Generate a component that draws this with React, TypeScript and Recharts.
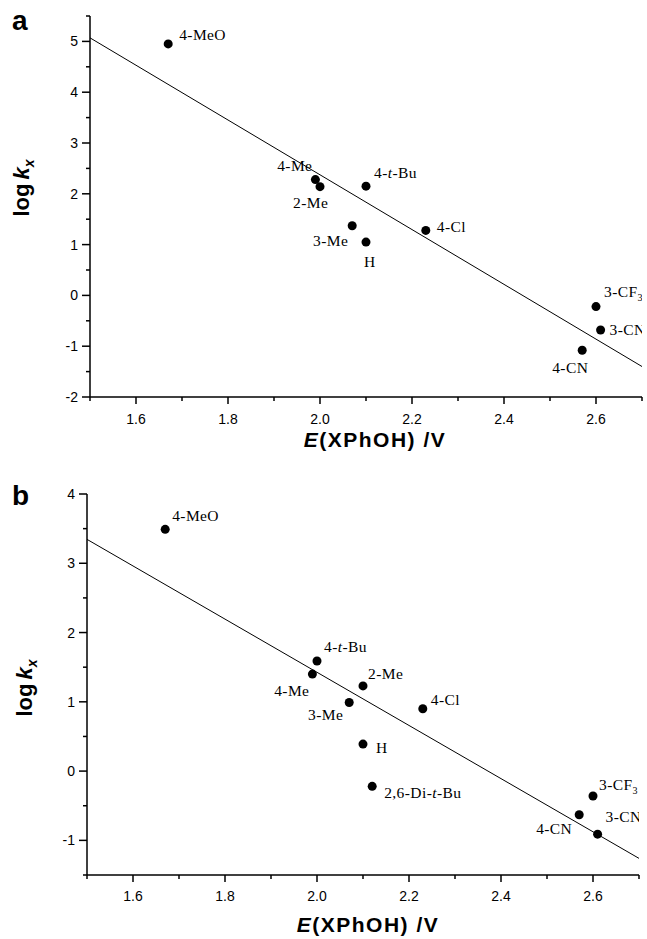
import React from "react";
import {
  ScatterChart,
  Scatter,
  XAxis,
  YAxis,
  ReferenceLine,
  Customized,
} from "recharts";

// panel a
const subsA = ["4-MeO", "4-Me", "2-Me", "4-t-Bu", "3-Me", "H", "4-Cl", "3-CF3", "3-CN", "4-CN"];
const potA = [1.67, 1.99, 2.0, 2.1, 2.07, 2.1, 2.23, 2.6, 2.61, 2.57];
const logkA = [4.95, 2.28, 2.14, 2.15, 1.37, 1.05, 1.28, -0.22, -0.68, -1.08];
const fitA = [5.07, -1.4];

// panel b
const subsB = ["4-MeO", "4-t-Bu", "4-Me", "2-Me", "3-Me", "4-Cl", "H", "2,6-Di-t-Bu", "3-CF3", "4-CN", "3-CN"];
const potB = [1.67, 2.0, 1.99, 2.1, 2.07, 2.23, 2.1, 2.12, 2.6, 2.57, 2.61];
const logkB = [3.49, 1.59, 1.4, 1.23, 0.99, 0.9, 0.39, -0.22, -0.36, -0.63, -0.91];
const fitB = [3.345, -1.26];

const fitX = [1.5, 2.7];
const xTicks = [1.5, 1.6, 1.7, 1.8, 1.9, 2.0, 2.1, 2.2, 2.3, 2.4, 2.5, 2.6, 2.7];
const yTicksA = [-2, -1.5, -1, -0.5, 0, 0.5, 1, 1.5, 2, 2.5, 3, 3.5, 4, 4.5, 5, 5.5];
const yTicksB = [-1.5, -1, -0.5, 0, 0.5, 1, 1.5, 2, 2.5, 3, 3.5, 4];

const SANS = "'Liberation Sans', Arial, sans-serif";
const SERIF = "'Liberation Serif', 'Times New Roman', serif";

// where each substituent label sits relative to its dot
const placeA: Record<string, { dx: number; dy: number; end?: boolean }> = {
  "4-MeO": { dx: 11, dy: -9 },
  "4-Me": { dx: -3, dy: -14, end: true },
  "2-Me": { dx: -27, dy: 16 },
  "4-t-Bu": { dx: 8, dy: -13 },
  "3-Me": { dx: -4, dy: 15, end: true },
  H: { dx: -2, dy: 20 },
  "4-Cl": { dx: 11, dy: -3 },
  "3-CF3": { dx: 8, dy: -15 },
  "3-CN": { dx: 9, dy: 0 },
  "4-CN": { dx: -30, dy: 18 },
};
const placeB: Record<string, { dx: number; dy: number; end?: boolean }> = {
  "4-MeO": { dx: 7, dy: -13 },
  "4-t-Bu": { dx: 7, dy: -14 },
  "4-Me": { dx: -3, dy: 17, end: true },
  "2-Me": { dx: 5, dy: -12 },
  "3-Me": { dx: -6, dy: 12, end: true },
  "4-Cl": { dx: 8, dy: -9 },
  H: { dx: 13, dy: 4 },
  "2,6-Di-t-Bu": { dx: 12, dy: 7 },
  "3-CF3": { dx: 6, dy: -11 },
  "4-CN": { dx: -7, dy: 14, end: true },
  "3-CN": { dx: 8, dy: -17 },
};

const pointsA = subsA.map((name, i) => ({ name, x: potA[i], y: logkA[i] }));
const pointsB = subsB.map((name, i) => ({ name, x: potB[i], y: logkB[i] }));

function renderName(name: string) {
  if (name.includes("-t-")) {
    const [a, b] = name.split("-t-");
    return [
      <tspan key="a">{a}-</tspan>,
      <tspan key="t" fontStyle="italic">t</tspan>,
      <tspan key="b">-{b}</tspan>,
    ];
  }
  if (name.endsWith("CF3")) {
    return [
      <tspan key="a">{name.slice(0, -1)}</tspan>,
      <tspan key="s" fontSize={10} dy={4}>3</tspan>,
    ];
  }
  return name;
}

function Point(props: any) {
  const { cx, cy, payload, place } = props;
  const p = place[payload.name] || { dx: 8, dy: -8 };
  return (
    <g>
      <circle cx={cx} cy={cy} r={4.5} fill="#000" />
      <text
        x={cx + p.dx}
        y={cy + p.dy + 5}
        textAnchor={p.end ? "end" : "start"}
        fontFamily={SERIF}
        fontSize={15.5}
        letterSpacing={0.4}
        fill="#000"
      >
        {renderName(payload.name)}
      </text>
    </g>
  );
}

function XTick(props: any) {
  const { x, y, payload, gap } = props;
  const v = payload.value;
  const major = Math.round(v * 10) % 2 === 0;
  return (
    <g>
      <line x1={x} x2={x} y1={y} y2={y + (major ? 7 : 4)} stroke="#000" strokeWidth={1.5} />
      {major && (
        <text x={x} y={y + gap} textAnchor="middle" fontFamily={SANS} fontSize={14} fill="#000">
          {v.toFixed(1)}
        </text>
      )}
    </g>
  );
}

function YTick(props: any) {
  const { x, y, payload } = props;
  const v = payload.value;
  const major = Number.isInteger(v);
  return (
    <g>
      <line x1={x} x2={x - (major ? 8 : 4)} y1={y} y2={y} stroke="#000" strokeWidth={1.5} />
      {major && (
        <text x={x - 12} y={y + 5} textAnchor="end" fontFamily={SANS} fontSize={14} fill="#000">
          {v}
        </text>
      )}
    </g>
  );
}

function Titles({ letter, letterY, yTitleX, yTitleY, xTitleX, xTitleY }: any) {
  return (
    <g fill="#000">
      <text x={12} y={letterY} fontFamily={SANS} fontWeight="bold" fontSize={28}>
        {letter}
      </text>
      <text
        x={yTitleX}
        y={yTitleY}
        transform={`rotate(-90, ${yTitleX}, ${yTitleY})`}
        textAnchor="middle"
        fontFamily={SANS}
        fontWeight="bold"
        fontSize={22}
      >
        log
        <tspan fontStyle="italic" dx={4}>k</tspan>
        <tspan fontStyle="italic" fontSize={14} dy={5}>x</tspan>
      </text>
      <text
        x={xTitleX}
        y={xTitleY}
        textAnchor="middle"
        fontFamily={SANS}
        fontWeight="bold"
        fontSize={21}
        letterSpacing={1.5}
      >
        <tspan fontStyle="italic">E</tspan>(XPhOH) /V
      </text>
    </g>
  );
}

const axisLine = { stroke: "#000", strokeWidth: 1.5 };

export default function App() {
  return (
    <div style={{ position: "absolute", left: 0, top: 0, width: 647, height: 939, background: "#fff" }}>
      <ScatterChart width={647} height={470} margin={{ top: 16, right: 5, bottom: 0, left: 0 }}>
        <XAxis
          type="number"
          dataKey="x"
          domain={[1.5, 2.7]}
          ticks={xTicks}
          interval={0}
          height={73}
          tickSize={0}
          tickMargin={0}
          tickLine={false}
          axisLine={axisLine}
          tick={<XTick gap={27} />}
          allowDataOverflow
        />
        <YAxis
          type="number"
          dataKey="y"
          domain={[-2, 5.5]}
          ticks={yTicksA}
          interval={0}
          width={90}
          tickSize={0}
          tickMargin={0}
          tickLine={false}
          axisLine={axisLine}
          tick={<YTick />}
          allowDataOverflow
        />
        <ReferenceLine
          segment={[
            { x: fitX[0], y: fitA[0] },
            { x: fitX[1], y: fitA[1] },
          ]}
          stroke="#000"
          strokeWidth={1}
          ifOverflow="visible"
        />
        <Scatter
          data={pointsA}
          fill="#000"
          isAnimationActive={false}
          shape={(p: any) => <Point {...p} place={placeA} />}
        />
        <Customized
          component={
            <Titles letter="a" letterY={30} yTitleX={29} yTitleY={188} xTitleX={375} xTitleY={447} />
          }
        />
      </ScatterChart>
      <ScatterChart width={647} height={469} margin={{ top: 24, right: 8, bottom: 0, left: 0 }}>
        <XAxis
          type="number"
          dataKey="x"
          domain={[1.5, 2.7]}
          ticks={xTicks}
          interval={0}
          height={64}
          tickSize={0}
          tickMargin={0}
          tickLine={false}
          axisLine={axisLine}
          tick={<XTick gap={25.5} />}
          allowDataOverflow
        />
        <YAxis
          type="number"
          dataKey="y"
          domain={[-1.5, 4]}
          ticks={yTicksB}
          interval={0}
          width={87}
          tickSize={0}
          tickMargin={0}
          tickLine={false}
          axisLine={axisLine}
          tick={<YTick />}
          allowDataOverflow
        />
        <ReferenceLine
          segment={[
            { x: fitX[0], y: fitB[0] },
            { x: fitX[1], y: fitB[1] },
          ]}
          stroke="#000"
          strokeWidth={1}
          ifOverflow="visible"
        />
        <Scatter
          data={pointsB}
          fill="#000"
          isAnimationActive={false}
          shape={(p: any) => <Point {...p} place={placeB} />}
        />
        <Customized
          component={
            <Titles letter="b" letterY={35} yTitleX={32} yTitleY={218} xTitleX={368} xTitleY={462} />
          }
        />
      </ScatterChart>
    </div>
  );
}
